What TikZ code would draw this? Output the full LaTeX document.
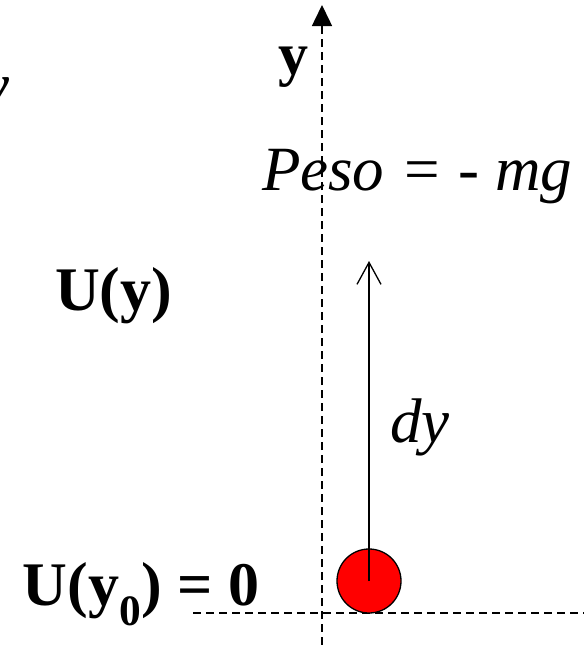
\documentclass[tikz,border=0pt]{standalone}
\usepackage{fontspec}
\setmainfont{Liberation Serif}
\usepackage{xcolor}
\usetikzlibrary{positioning, arrows.meta}
\definecolor{Ball_Red}{HTML}{FF0000}

\begin{document}
\begin{tikzpicture}[
  x=1pt, y=-1pt,
  every node/.style={inner sep=0pt, outer sep=0pt},
  lbl/.style={anchor=base west, font=\fontsize{62}{70}\selectfont\bfseries},
  ilbl/.style={anchor=base west, font=\fontsize{63}{70}\selectfont\itshape},
  axis/.style={line width=1.5pt, dash pattern=on 8pt off 5pt},
  ball/.style={circle, draw, line width=1.3pt, fill=Ball_Red, minimum size=64pt}
]
  \useasboundingbox (0, 0) rectangle (584, 645);
  \clip (0, 0) rectangle (584, 645);

  % Axes (dashed)
  \coordinate (axisBot) at (322, 645);
  \coordinate (axisTop) at (322, 5);
  \coordinate (groundL) at (193, 613);
  \coordinate (groundR) at (584, 613);
  \draw[axis, -{Triangle[length=21pt, width=20pt]}] (axisBot) -- (axisTop);
  \draw[axis] (groundL) -- (groundR);

  % Ball and displacement
  \node[ball] (mass) at (369, 581) {};
  \coordinate (dyTop) at (369, 261);
  \draw[line width=1.3pt, -{Straight Barb[length=22pt, width=24pt]}] (mass.center) -- (dyTop);

  % Labels
  \node[ilbl] (cutY) at (-18, 106) {y};
  \node[lbl, font=\fontsize{60}{70}\selectfont\bfseries] (lblY) at (278, 74) {y};
  \node[ilbl] (lblPeso) at (262, 190) {Peso = - mg};
  \node[lbl] (lblU) at (55, 310) {U(y)};
  \node[ilbl] (lblDy) at (390, 442) {dy};
  \node[lbl] (lblU0) at (23, 605) {U(y\textsubscript{0}) = 0};
\end{tikzpicture}
\end{document}
